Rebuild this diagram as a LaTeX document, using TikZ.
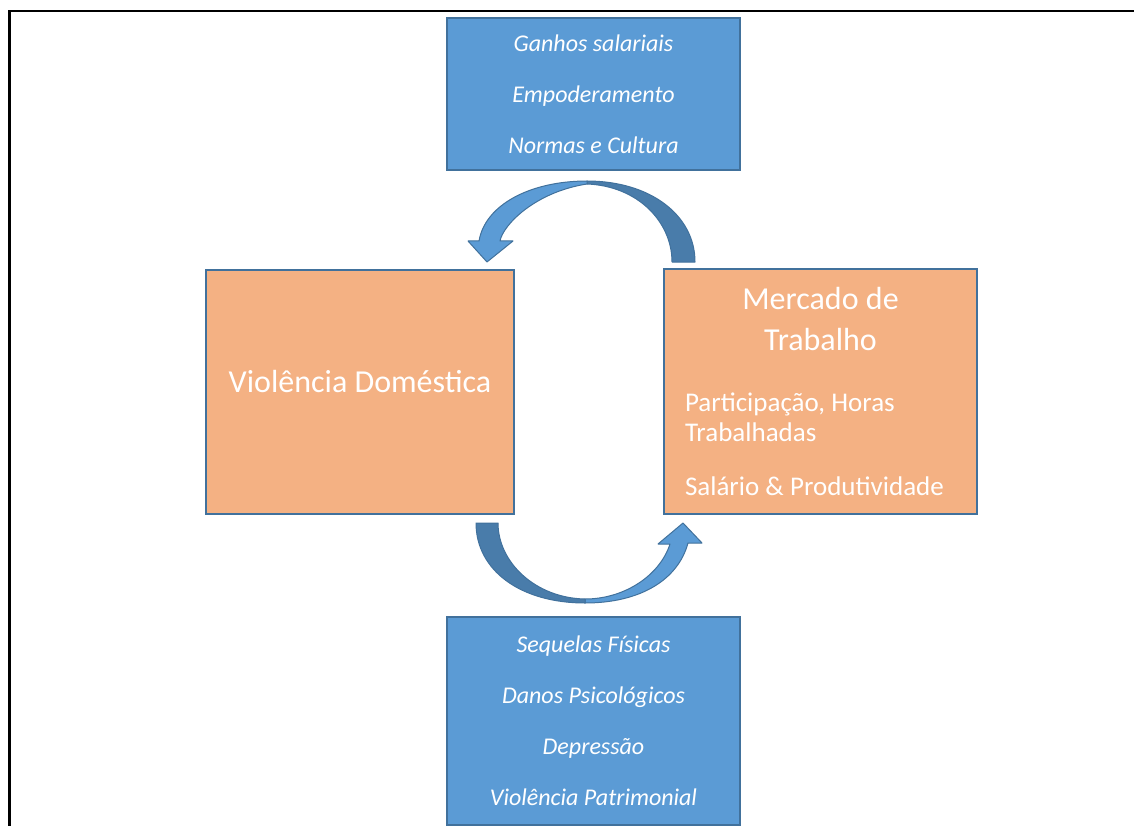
\documentclass[tikz,border=0pt]{standalone}
\usepackage{fontspec}
\setmainfont{Carlito}
\definecolor{myblue}{HTML}{5B9BD5}
\definecolor{mydarkblue}{HTML}{497CAA}
\definecolor{myedge}{HTML}{41719C}
\definecolor{myorange}{HTML}{F4B183}
\tikzset{
    fator/.style={
           rectangle,
           fill=myblue,
           draw=myedge, line width=2pt,
           text=white,
           align=center,
           font=\fontsize{24}{51}\selectfont\itshape,
           minimum width=293,
           },
    campo/.style={
           rectangle,
           fill=myorange,
           draw=myedge, line width=2pt,
           text=white,
           },
    seta/.style={
           draw=myedge, line width=1pt, line join=round,
           },
}
\newcommand{\titulo}[1]{{\centering\fontsize{32}{41}\selectfont\spaceskip=.23em plus .1em #1\par}}
\newcommand{\canal}[1]{{\raggedright\fontsize{27}{30.6}\selectfont\spaceskip=.23em plus .1em #1\par}}

\begin{document}
\begin{tikzpicture}[x=1pt, y=-1pt]
  \useasboundingbox (0,0) rectangle (1134,826);
  \clip (0,0) rectangle (1134,826);
  \draw[line width=2.5pt] (9.3,840) -- (9.3,11.2) -- (1140,11.2);
  \node[fator, minimum height=152] (G) at (593.5,  94) {Ganhos salariais\\Empoderamento\\Normas e Cultura};
  \node[fator, minimum height=208] (S) at (593.5, 721) {Sequelas Físicas\\Danos Psicológicos\\Depressão\\Violência Patrimonial};
  \node[campo, minimum width=308, minimum height=244, font=\fontsize{32}{39}\selectfont,
        text height=24, text depth=24]                          (V) at (360, 392)   {Violência Doméstica};
  \node[campo, minimum height=245, text width=271, inner xsep=21] (M) at (820.5, 391.5) {%
        \titulo{Mercado de\\Trabalho}\vspace{30pt}
        \canal{Participação, Horas\\Trabalhadas}\vspace{23pt}
        \canal{Salário \& Produtividade}};
  \filldraw[seta, fill=mydarkblue] (587,181) .. controls (650,181) and (695,215) .. (695,262)
        -- (672,262) .. controls (672,222) and (638,186) .. (587,184) -- cycle;
  \filldraw[seta, fill=myblue] (587,181) .. controls (530,181) and (485,205) .. (479,241)
        -- (468,241) -- (487,262) -- (513,241) -- (500,241) .. controls (503,225) and (535,192) .. (587,184) -- cycle;
  \filldraw[seta, fill=myblue] (585,603) .. controls (640,603) and (678,580) .. (688,543)
        -- (702,543) -- (683,523) -- (658,544) -- (670,544) .. controls (660,575) and (625,599) .. (585,599) -- cycle;
  \filldraw[seta, fill=mydarkblue] (476,523) .. controls (476,570) and (520,603) .. (585,603)
        -- (585,599) .. controls (535,598) and (498,562) .. (498,523) -- cycle;
\end{tikzpicture}
\end{document}
